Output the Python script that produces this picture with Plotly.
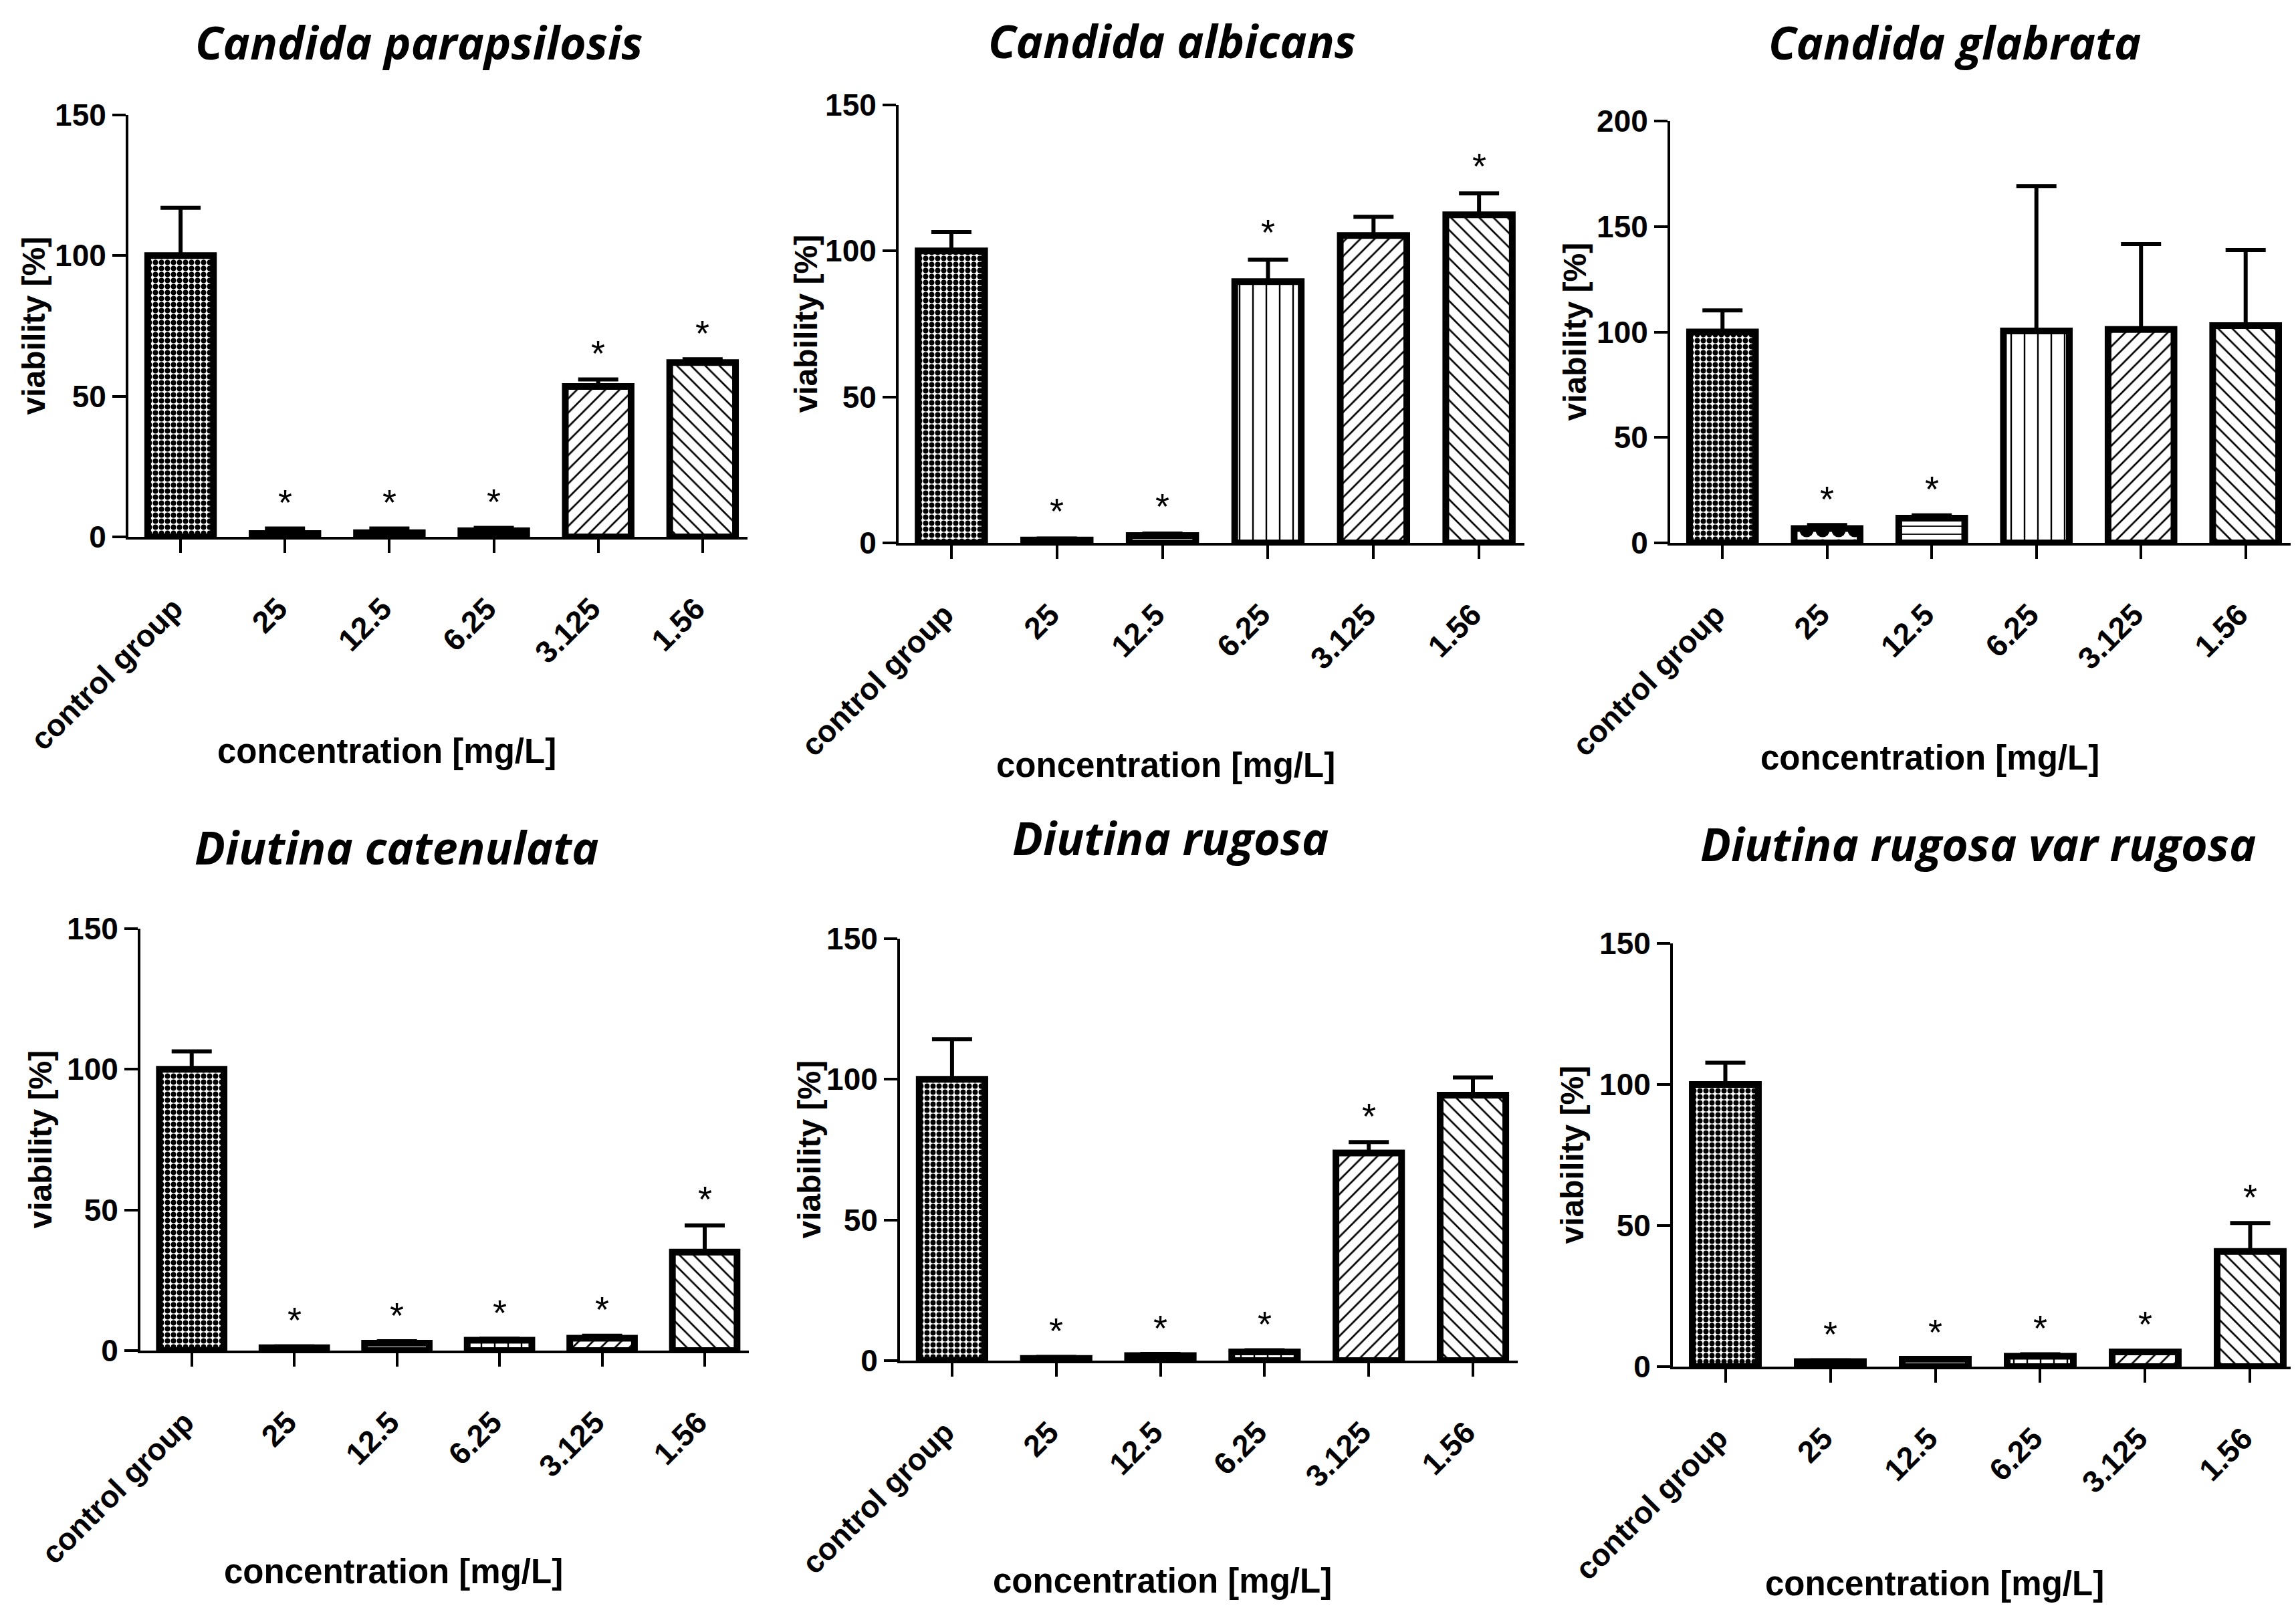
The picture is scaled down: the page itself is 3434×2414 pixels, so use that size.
import plotly.graph_objects as go

W, H = 3434, 2414

categories = ["control group", "25", "12.5", "6.25", "3.125", "1.56"]

titles = ["Candida parapsilosis", "Candida albicans", "Candida glabrata",
          "Diutina catenulata", "Diutina rugosa", "Diutina rugosa var rugosa"]

# viability [%] mean, upper error (SD) and significance (*) per concentration
parapsilosis_mean = [100, 1.2, 1.5, 2.2, 53.5, 62.0]
parapsilosis_err = [17.0, 1.8, 1.5, 1.0, 2.5, 1.2]
parapsilosis_sig = [0, 1, 1, 1, 1, 1]

albicans_mean = [100, 1.0, 2.5, 89.5, 105.3, 112.4]
albicans_err = [6.5, 0.5, 0.7, 7.5, 6.4, 7.3]
albicans_sig = [0, 1, 1, 1, 0, 1]

glabrata_mean = [100, 6.8, 11.7, 100.5, 101.2, 103.0]
glabrata_err = [10.2, 1.7, 1.4, 68.7, 40.5, 35.8]
glabrata_sig = [0, 1, 1, 0, 0, 0]

catenulata_mean = [100, 1.0, 2.6, 3.7, 4.4, 35.0]
catenulata_err = [6.4, 0.5, 0.7, 0.5, 0.9, 9.5]
catenulata_sig = [0, 1, 1, 1, 1, 1]

rugosa_mean = [100, 0.8, 1.8, 3.1, 73.8, 94.4]
rugosa_err = [14.3, 0.5, 0.6, 0.6, 3.9, 6.3]
rugosa_sig = [0, 1, 1, 1, 1, 0]

rugosa_var_mean = [100, 1.8, 2.6, 3.7, 5.2, 40.8]
rugosa_var_err = [7.7, 0.4, 0.4, 0.7, 0.5, 10.1]
rugosa_var_sig = [0, 1, 1, 1, 1, 1]

y_max = [150, 150, 200, 150, 150, 150]

means = [parapsilosis_mean, albicans_mean, glabrata_mean,
         catenulata_mean, rugosa_mean, rugosa_var_mean]
errs = [parapsilosis_err, albicans_err, glabrata_err,
        catenulata_err, rugosa_err, rugosa_var_err]
sigs = [parapsilosis_sig, albicans_sig, glabrata_sig,
        catenulata_sig, rugosa_sig, rugosa_var_sig]

# hatch style per concentration
shapes = [".", ".", "-", "|", "/", "\\"]
sizes = [9, 24, 12, 20, 15, 15]
solids = [0.6, 0.6, 0.15, 0.12, 0.18, 0.18]

# plot boxes in pixels: x left, x right, y of top tick, y of zero line
boxes = [(184, 1110, 164, 795), (1336, 2272, 149, 804), (2490, 3418, 173, 804),
         (202, 1112, 1381, 2012), (1338, 2262, 1396, 2027), (2494, 3425, 1403, 2036)]
title_pos = [(618, 54), (1745, 52), (2915, 54), (585, 1258), (1743, 1244), (2950, 1253)]
xtitle_pos = [(570, 1115), (1735, 1137), (2878, 1125), (580, 2342), (1730, 2356), (2885, 2360)]
ytitle_x = [42, 1197, 2347, 52, 1202, 2343]

tick_font = dict(family="Liberation Sans", size=46, color="black", weight="bold")

fig = go.Figure()
annotations = []

for i in range(6):
    n = i + 1
    xa, ya = ("x%d" % n if n > 1 else "x"), ("y%d" % n if n > 1 else "y")
    fig.add_trace(go.Bar(
        x=categories, y=means[i], xaxis=xa, yaxis=ya, width=0.63,
        marker=dict(color="white", line=dict(color="black", width=10),
                    pattern=dict(shape=shapes, size=sizes, solidity=solids,
                                 fgcolor="black", bgcolor="white")),
        error_y=dict(type="data", symmetric=False, array=errs[i],
                     arrayminus=[0] * 6, color="black", thickness=6, width=30),
        showlegend=False,
    ))

    x0, x1, yt, yb = boxes[i]
    sfx = "" if n == 1 else str(n)
    fig.layout["xaxis" + sfx] = dict(
        domain=[x0 / W, x1 / W], anchor=ya, type="category", automargin=False,
        range=[-0.5, 5.43], showline=True, linewidth=4, linecolor="black",
        ticks="outside", ticklen=20, tickwidth=4, tickcolor="black",
        tickangle=-45, tickfont=tick_font, ticklabelstandoff=38,
        ticklabelshift=-10, showgrid=False, zeroline=False)
    fig.layout["yaxis" + sfx] = dict(
        domain=[1 - yb / H, 1 - yt / H], anchor=xa, range=[0, y_max[i]],
        automargin=False,
        dtick=50, showline=True, linewidth=4, linecolor="black",
        ticks="outside", ticklen=20, tickwidth=4, tickcolor="black",
        tickfont=tick_font, showgrid=False, zeroline=False)

    # asterisks above significant bars
    gap = 0.075 * y_max[i]
    for j, (m, e, s) in enumerate(zip(means[i], errs[i], sigs[i])):
        if s:
            annotations.append(dict(
                x=j, y=m + e + gap, xref=xa, yref=ya, text="*", showarrow=False,
                yanchor="middle", yshift=-8,
                font=dict(family="Liberation Sans", size=54, color="black")))

    tx, ty = title_pos[i]
    annotations.append(dict(
        x=tx / W, y=1 - ty / H, xref="paper", yref="paper", text=titles[i],
        showarrow=False, xanchor="center", yanchor="middle", borderpad=0,
        font=dict(family="Open Sans", size=68, color="black",
                  weight="bold", style="italic")))
    cx, cy = xtitle_pos[i]
    annotations.append(dict(
        x=cx / W, y=1 - cy / H, xref="paper", yref="paper",
        text="concentration [mg/L]", showarrow=False,
        xanchor="center", yanchor="middle",
        font=dict(family="Liberation Sans", size=51, color="black", weight="bold")))
    annotations.append(dict(
        x=ytitle_x[i] / W, y=1 - (yt + yb) / 2 / H, xref="paper", yref="paper",
        text="viability [%]", showarrow=False, textangle=-90,
        xanchor="center", yanchor="middle",
        font=dict(family="Liberation Sans", size=48, color="black", weight="bold")))

fig.update_layout(
    template="none",
    width=W, height=H, margin=dict(l=0, r=0, t=0, b=0, autoexpand=False),
    paper_bgcolor="white", plot_bgcolor="white",
    annotations=annotations,
)

fig.write_html("out.html")
